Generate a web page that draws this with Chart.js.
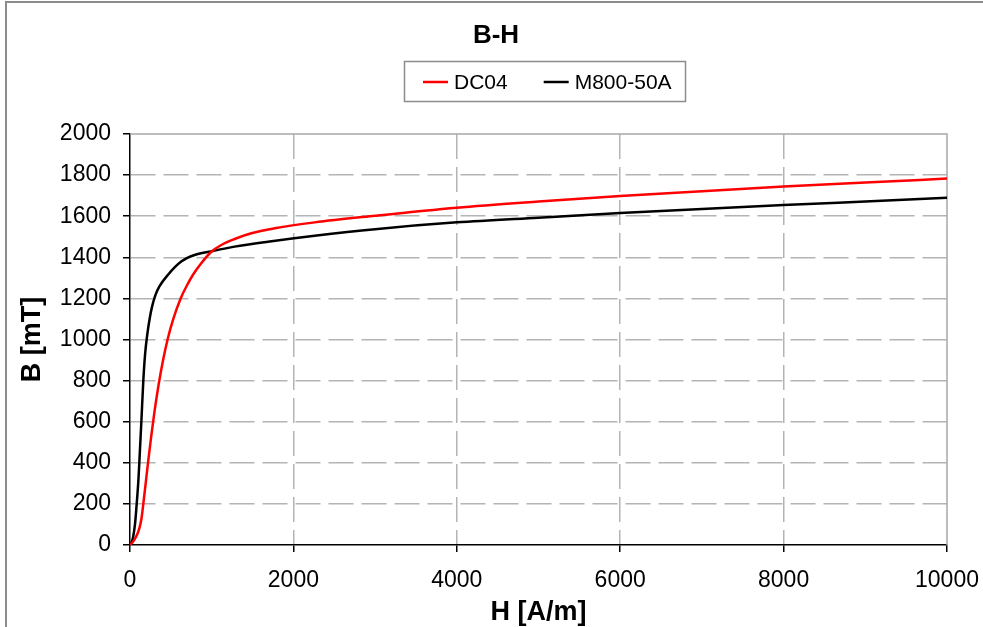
<!DOCTYPE html>
<html>
<head>
<meta charset="utf-8">
<script src="https://cdn.jsdelivr.net/npm/chart.js@4"></script>
<style>
  html, body { margin: 0; padding: 0; background: #fff; }
  #wrap { position: relative; width: 983px; height: 627px; overflow: hidden; }
  #frame { position: absolute; left: 5px; top: 1px; width: 1200px; height: 900px;
           border-left: 2px solid #8c8c8c; border-top: 2px solid #8c8c8c; }
  canvas { position: absolute; left: 0; top: 0; }
</style>
</head>
<body>
<div id="wrap">
  <div id="frame"></div>
  <canvas id="bhChart" width="983" height="627"></canvas>
</div>
<script>
// H [A/m] and B [mT]
const dc04H = [0, 45, 90, 115, 139, 163, 196, 225, 260, 300, 350, 405, 460, 530, 620, 700, 769, 872, 995, 1117, 1280, 1485, 1770, 2260, 3000, 4000, 5000, 6000, 7000, 8000, 9000, 10000];
const dc04B = [0, 20, 53, 82, 125, 200, 315, 415, 530, 650, 780, 900, 1000, 1100, 1200, 1265, 1314, 1371, 1427, 1460, 1489, 1517, 1541, 1570, 1602, 1641, 1671, 1698, 1722, 1744, 1764, 1783];

const m800H = [0, 20, 37, 61, 82, 102, 114, 139, 163, 185, 210, 240, 270, 310, 360, 463, 627, 790, 1015, 1280, 1688, 2260, 3000, 4000, 5000, 6000, 7000, 8000, 9000, 10000];
const m800B = [0, 15, 37, 100, 200, 310, 400, 600, 800, 930, 1020, 1100, 1160, 1215, 1258, 1314, 1379, 1411, 1431, 1452, 1476, 1505, 1537, 1570, 1593, 1615, 1635, 1654, 1672, 1690];

const seriesNames = ["DC04", "M800-50A"];
const seriesColors = ["#ff0000", "#000000"];

const chartTitle = "B-H";
const xTitle = "H [A/m]";
const yTitle = "B [mT]";

const toPoints = (hs, bs) => hs.map((h, i) => ({ x: h, y: bs[i] }));

const fontFamily = "'Liberation Sans', Arial, sans-serif";
const gridGray = "#b4b4b4";

// solid top and right border of the plot area
const plotFrame = {
    id: "plotFrame",
    beforeDatasetsDraw(chart) {
        const { ctx, chartArea: a } = chart;
        ctx.save();
        ctx.strokeStyle = "#a8a8a8";
        ctx.lineWidth = 1.5;
        ctx.beginPath();
        ctx.moveTo(a.left, a.top);
        ctx.lineTo(a.right, a.top);
        ctx.lineTo(a.right, a.bottom);
        ctx.stroke();
        ctx.restore();
    },
};

// boxed legend like the original
const boxLegend = {
    id: "boxLegend",
    afterDraw(chart) {
        const ctx = chart.ctx;
        const boxX = 404.5, boxY = 61.5, boxW = 281, boxH = 40;
        ctx.save();
        ctx.strokeStyle = "#8c8c8c";
        ctx.lineWidth = 1.5;
        ctx.strokeRect(boxX, boxY, boxW, boxH);
        ctx.font = "21px " + fontFamily;
        ctx.textBaseline = "middle";
        ctx.textAlign = "left";
        let x = 423;
        const y = boxY + boxH / 2 + 0.5;
        chart.data.datasets.forEach((ds) => {
            ctx.strokeStyle = ds.borderColor;
            ctx.lineWidth = 2.5;
            ctx.beginPath();
            ctx.moveTo(x, y);
            ctx.lineTo(x + 25, y);
            ctx.stroke();
            ctx.fillStyle = "#000";
            ctx.fillText(ds.label, x + 31, y + 1);
            x += 31 + ctx.measureText(ds.label).width + 36;
        });
        ctx.restore();
    },
};

const hideEnds = (max) => (c) => (c.tick && (c.tick.value === 0 || c.tick.value === max)) ? "rgba(0,0,0,0)" : gridGray;
const plain = (v) => String(v);

const ctx = document.getElementById("bhChart").getContext("2d");
new Chart(ctx, {
    type: "line",
    data: {
        datasets: [
            { label: seriesNames[0], data: toPoints(dc04H, dc04B), borderColor: seriesColors[0], backgroundColor: seriesColors[0],
              borderWidth: 2.5, pointRadius: 0, fill: false, cubicInterpolationMode: "monotone" },
            { label: seriesNames[1], data: toPoints(m800H, m800B), borderColor: seriesColors[1], backgroundColor: seriesColors[1],
              borderWidth: 2.5, pointRadius: 0, fill: false, cubicInterpolationMode: "monotone" },
        ],
    },
    options: {
        responsive: false,
        animation: false,
        devicePixelRatio: 1,
        layout: { padding: { left: 9, right: 0, top: 0, bottom: 0 } },
        plugins: {
            legend: { display: false },
            tooltip: { enabled: false },
            title: {
                display: true,
                text: chartTitle,
                color: "#000",
                font: { family: fontFamily, size: 26, weight: "bold", lineHeight: 1.2 },
                padding: { top: 20, bottom: 82.8 },
            },
        },
        scales: {
            x: {
                type: "linear",
                min: 0,
                max: 10000,
                ticks: { stepSize: 2000, color: "#000", padding: 15, maxRotation: 0, callback: plain,
                         font: { family: fontFamily, size: 23 } },
                grid: { color: hideEnds(10000), lineWidth: 1.5, tickColor: "#000", tickLength: 7, tickWidth: 1.5 },
                border: { color: "#000", width: 1.5, dash: [25, 8] },
                title: { display: true, text: xTitle, color: "#000", padding: { top: 0, bottom: 0 },
                         font: { family: fontFamily, size: 27, weight: "bold", lineHeight: 1.1 } },
                afterFit: (s) => { s.height = 82; s.paddingLeft = 0; s.paddingRight = 0; },
            },
            y: {
                type: "linear",
                min: 0,
                max: 2000,
                ticks: { stepSize: 200, color: "#000", padding: 12, callback: plain,
                         font: { family: fontFamily, size: 23 } },
                grid: { color: hideEnds(2000), lineWidth: 1.5, tickColor: "#000", tickLength: 7, tickWidth: 1.5 },
                border: { color: "#000", width: 1.5, dash: [25, 8] },
                title: { display: true, text: yTitle, color: "#000", padding: { top: 9, bottom: 0 },
                         font: { family: fontFamily, size: 27, weight: "bold", lineHeight: 1.1 } },
                afterFit: (s) => { s.width = 121; },
            },
            yRight: {
                type: "linear",
                position: "right",
                min: 0,
                max: 2000,
                ticks: { display: false },
                grid: { display: false, drawTicks: false },
                border: { display: false },
                afterFit: (s) => { s.width = 36; },
            },
        },
    },
    plugins: [plotFrame, boxLegend],
});
</script>
</body>
</html>
